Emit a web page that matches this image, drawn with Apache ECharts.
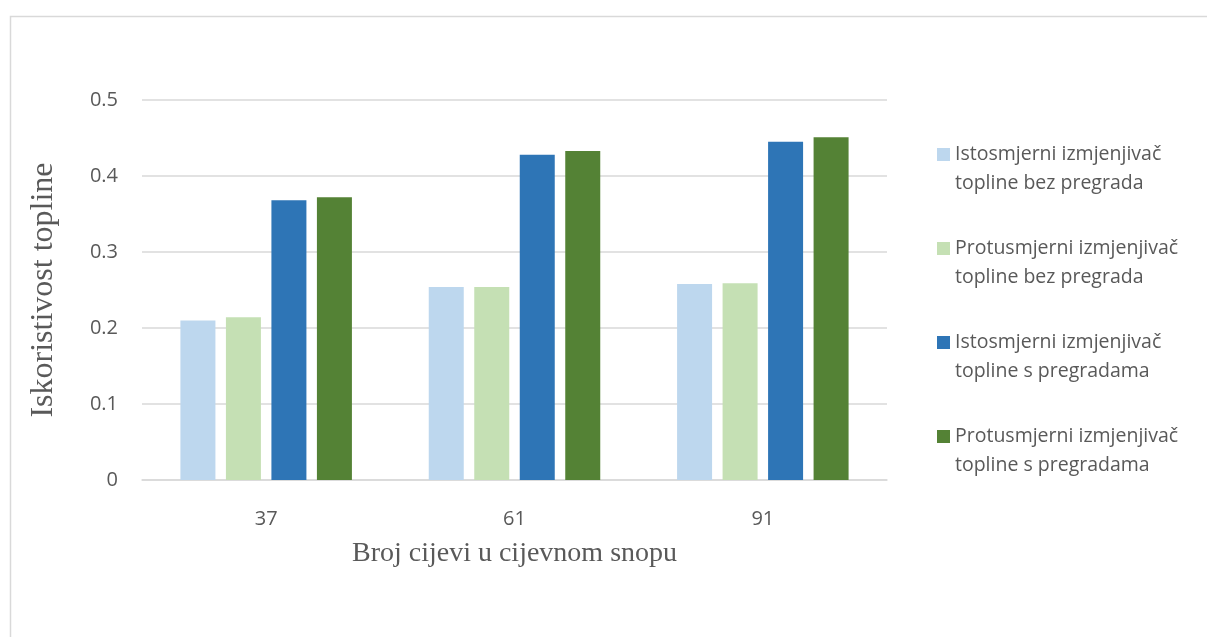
<!DOCTYPE html>
<html>
<head>
<meta charset="utf-8">
<script src="https://cdn.jsdelivr.net/npm/echarts@6/dist/echarts.min.js"></script>
<style>
html,body{margin:0;padding:0;background:#fff;}
#c{width:1207px;height:637px;}
</style>
</head>
<body>
<div id="c"></div>
<script>
const categories = ['37', '61', '91'];
const seriesNames = [
  'Istosmjerni izmjenjivač\ntopline bez pregrada',
  'Protusmjerni izmjenjivač\ntopline bez pregrada',
  'Istosmjerni izmjenjivač\ntopline s pregradama',
  'Protusmjerni izmjenjivač\ntopline s pregradama'
];
const coBez = [0.210, 0.254, 0.258];
const counterBez = [0.214, 0.254, 0.259];
const coS = [0.368, 0.428, 0.445];
const counterS = [0.372, 0.433, 0.451];
const colors = ['#bdd7ee', '#c5e0b4', '#2e75b6', '#548235'];
const yTicks = [0, 0.1, 0.2, 0.3, 0.4, 0.5];

const values = [coBez, counterBez, coS, counterS];
const chart = echarts.init(document.getElementById('c'));
chart.setOption({
  backgroundColor: '#fff',
  animation: false,
  graphic: [{
    type: 'rect', left: 8, top: 14, silent: true,
    shape: { width: 1210, height: 640 },
    style: { fill: 'none', stroke: '#d9d9d9', lineWidth: 1.5 }
  }],
  grid: { left: 142, right: 320, top: 100, bottom: 157 },
  legend: {
    orient: 'vertical',
    left: 932,
    top: 106,
    itemWidth: 13,
    itemHeight: 13,
    itemGap: 7,
    icon: 'rect',
    data: seriesNames,
    formatter: function (n) { return '\n' + n; },
    textStyle: { fontFamily: 'Open Sans', fontSize: 19.5, color: '#595959', lineHeight: 29 }
  },
  xAxis: {
    type: 'category',
    data: categories,
    name: 'Broj cijevi u cijevnom snopu',
    nameLocation: 'middle',
    nameGap: 60,
    nameTextStyle: { fontFamily: 'Liberation Serif', fontSize: 28, color: '#595959' },
    axisLine: { lineStyle: { color: '#d9d9d9', width: 1.5 } },
    axisTick: { show: false },
    axisLabel: { fontFamily: 'Open Sans', fontSize: 20, color: '#595959', margin: 29 }
  },
  yAxis: {
    type: 'value',
    min: 0, max: 0.5, interval: 0.1,
    name: 'Iskoristivost topline',
    nameLocation: 'middle',
    nameGap: 82,
    nameTextStyle: { fontFamily: 'Liberation Serif', fontSize: 32, color: '#595959' },
    axisLine: { show: false },
    axisTick: { show: false },
    splitLine: { lineStyle: { color: '#d9d9d9', width: 1.5 } },
    axisLabel: {
      fontFamily: 'Open Sans', fontSize: 20, color: '#595959', margin: 24,
      formatter: function (v) {
        const t = yTicks.find(x => Math.abs(x - v) < 1e-9);
        return t === 0 ? '0' : String(+v.toFixed(1));
      }
    }
  },
  series: seriesNames.map((n, i) => ({
    name: n,
    type: 'bar',
    data: values[i],
    barWidth: 35,
    barGap: '30%',
    itemStyle: { color: colors[i] }
  }))
});
</script>
</body>
</html>
